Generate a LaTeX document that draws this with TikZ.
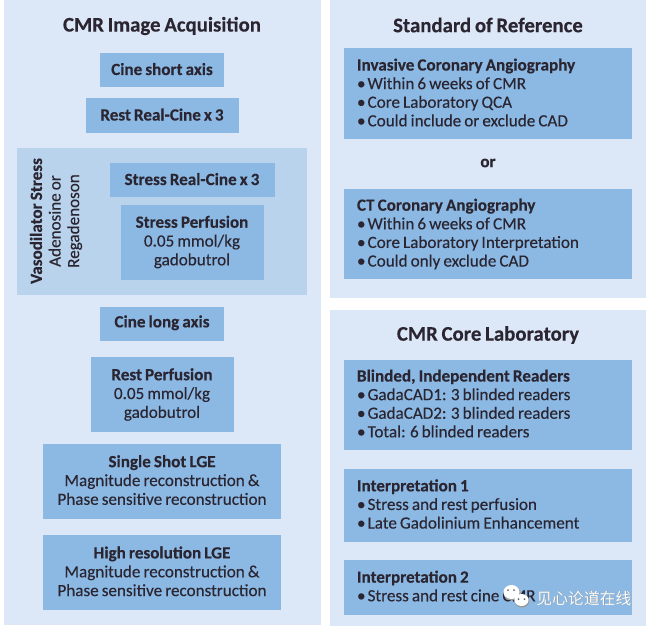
\documentclass[tikz,border=0pt]{standalone}
\usepackage{fontspec}
\setmainfont[WordSpace=0.8,FakeBold=0.25]{Carlito}
\newfontfamily\cjk{Noto Sans CJK SC}
\newcommand{\bul}{•\kern-1pt\ }
\definecolor{panelc}{HTML}{DCE7F7}
\definecolor{midc}{HTML}{B9D3EC}
\definecolor{boxc}{HTML}{8BB9E4}
\definecolor{inkc}{HTML}{2A2530}
\tikzset{
  x=1pt,y=-1pt,
  panel/.style={fill=panelc,draw=none,inner sep=0pt,outer sep=0pt},
  midpanel/.style={fill=midc,draw=none,inner sep=0pt,outer sep=0pt},
  bx/.style={fill=boxc,draw=none,inner sep=0pt,outer sep=0pt,align=center,text=inkc,font=\fontsize{17.1}{18.8}\selectfont},
  lbx/.style={fill=boxc,draw=none,inner xsep=13pt,inner ysep=0pt,outer sep=0pt,align=flush left,text=inkc,font=\fontsize{17.1}{18.6}\selectfont,text width=262pt,minimum width=288pt},
  lift/.style={execute at end node={\par\vspace{#1}}},
  ttl/.style={text=inkc,font=\bfseries\fontsize{20.8}{24}\selectfont,inner sep=0pt},
  side/.style={text=inkc,font=\fontsize{17.1}{18.6}\selectfont,align=center,rotate=90,inner sep=0pt},
  wm/.style={text=white,font=\cjk\fontsize{15.8}{17}\selectfont,inner sep=0pt},
  wms/.style={text=black!45,font=\cjk\fontsize{15.8}{17}\selectfont,inner sep=0pt},
}
\begin{document}
\begin{tikzpicture}
\useasboundingbox (0,0) rectangle (652,626);
\fill[white] (0,0) rectangle (652,626);
\node[panel,minimum width=317pt,minimum height=625pt] (pl) at (162.5,312.5) {};
\node[panel,minimum width=316pt,minimum height=298pt] (pr) at (488,149) {};
\node[panel,minimum width=316pt,minimum height=316pt] (pc) at (488,468) {};
\node[ttl] (t1) at (162,26) {CMR Image Acquisition};
\node[ttl] (t2) at (488,25) {Standard of Reference};
\node[ttl] (t3) at (488,335) {CMR Core Laboratory};
\node[midpanel,minimum width=290pt,minimum height=147pt] (vs) at (162,221.5) {};
\node[bx,text depth=2pt,minimum width=124pt,minimum height=34pt] (a) at (162,70) {\textbf{Cine short axis}};
\node[bx,text depth=2pt,minimum width=153pt,minimum height=35pt] (b) at (162,115.5) {\textbf{Rest Real-Cine x 3}};
\node[bx,text depth=2pt,minimum width=165pt,minimum height=34pt] (c) at (192,180) {\textbf{Stress Real-Cine x 3}};
\node[bx,minimum width=143pt,minimum height=75pt] (d) at (192,242) {\textbf{Stress Perfusion}\\0.05 mmol/kg\\gadobutrol};
\node[side] (v) at (56,221) {\textbf{Vasodilator Stress}\\Adenosine or\\Regadenoson};
\node[bx,text depth=5.3pt,minimum width=124pt,minimum height=34pt] (e) at (162,324) {\textbf{Cine long axis}};
\node[bx,minimum width=143pt,minimum height=75pt] (f) at (162,394.5) {\textbf{Rest Perfusion}\\0.05 mmol/kg\\gadobutrol};
\node[bx,text depth=3pt,minimum width=238pt,minimum height=75pt] (g) at (162,481.5) {\textbf{Single Shot LGE}\\Magnitude reconstruction \&\\Phase sensitive reconstruction};
\node[bx,text depth=1.5pt,minimum width=238pt,minimum height=75pt] (h) at (162,572) {\textbf{High resolution LGE}\\Magnitude reconstruction \&\\Phase sensitive reconstruction};
\node[lbx,lift=2pt,minimum height=90pt] (r1) at (488,93.5) {\textbf{Invasive Coronary Angiography}\\\bul Within 6 weeks of CMR\\\bul Core Laboratory QCA\\\bul Could include or exclude CAD};
\node[text=inkc,font=\bfseries\fontsize{17.1}{18}\selectfont,inner sep=0pt] (or) at (488,163) {or};
\node[lbx,minimum height=90pt] (r2) at (488,234) {\textbf{CT Coronary Angiography}\\\bul Within 6 weeks of CMR\\\bul Core Laboratory Interpretation\\\bul Could only exclude CAD};
\node[lbx,lift=3pt,minimum height=90pt] (c1) at (488,405) {\textbf{Blinded, Independent Readers}\\\bul GadaCAD1: 3 blinded readers\\\bul GadaCAD2: 3 blinded readers\\\bul Total: 6 blinded readers};
\node[lbx,lift=2pt,minimum height=73pt] (c2) at (488,505) {\textbf{Interpretation 1}\\\bul Stress and rest perfusion\\\bul Late Gadolinium Enhancement};
\node[lbx,lift=2pt,minimum height=55pt] (c3) at (488,587) {\textbf{Interpretation 2}\\\bul Stress and rest cine CMR};
% watermark
\fill[black!40] (512,593) ellipse (8.5pt and 7.5pt);
\fill[black!40] (522,601) ellipse (7.5pt and 6.5pt);
\fill[white] (511.5,592) ellipse (8pt and 7pt);
\fill[white] (521.5,600) ellipse (7pt and 6pt);
\fill[black!60] (518.5,599) circle (1pt) (524.5,599) circle (1pt) (508,590) circle (1pt) (514,590) circle (1pt);
\node[wms] (ws) at (584.5,598.5) {见心论道在线};
\node[wm] (w) at (584,598) {见心论道在线};
\end{tikzpicture}
\end{document}
